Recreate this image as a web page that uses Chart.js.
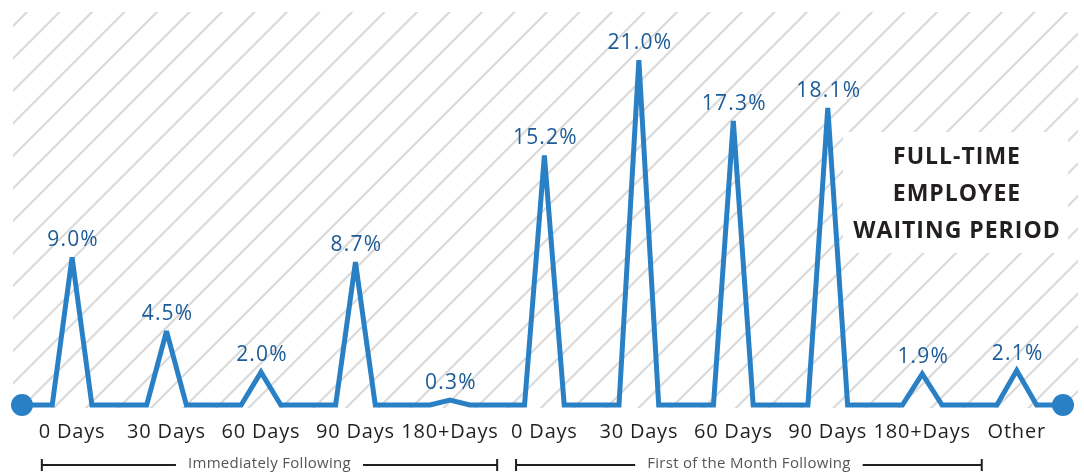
<!DOCTYPE html>
<html>
<head>
<meta charset="utf-8">
<script src="https://cdn.jsdelivr.net/npm/chart.js@4/dist/chart.umd.min.js"></script>
<style>
  html, body { margin: 0; padding: 0; background: #fff; }
  #wrap { width: 1084px; height: 473px; position: relative; }
</style>
</head>
<body>
<div id="wrap"><canvas id="grafico"></canvas></div>
<script>
// categorias e valores (%)
var categories = ["0 Days", "30 Days", "60 Days", "90 Days", "180+Days",
                  "0 Days", "30 Days", "60 Days", "90 Days", "180+Days", "Other"];
var values = [9.0, 4.5, 2.0, 8.7, 0.3, 15.2, 21.0, 17.3, 18.1, 1.9, 2.1];
var groups = ["Immediately Following", "First of the Month Following"];
var titleLines = ["FULL-TIME", "EMPLOYEE", "WAITING PERIOD"];

var FONT = "'Open Sans', 'Noto Sans', sans-serif";
var blue = "#2a80c5";
var labelBlue = "#1b5b98";
var dark = "#231f20";

// cada categoria vira um "pico": base, topo, base
var points = [{x: -0.53, y: 0}];
values.forEach(function(v, i) {
  points.push({x: i - 0.21, y: 0});
  points.push({x: i, y: v});
  points.push({x: i + 0.21, y: 0});
});
points.push({x: 10.49, y: 0});

var hatch = {
  id: "hatch",
  beforeDraw: function(chart) {
    var ctx = chart.ctx;
    var x0 = 13, y0 = 12, x1 = 1078, y1 = 408;
    ctx.save();
    ctx.beginPath();
    ctx.rect(x0, y0, x1 - x0, y1 - y0);
    ctx.clip();
    ctx.strokeStyle = "#dadada";
    ctx.lineWidth = 2.2;
    for (var c = 39 - 32.5 * 20; c < x1 + y1 + 40; c += 32.5) {
      ctx.beginPath();
      ctx.moveTo(c - y0 + 20, y0 - 20);
      ctx.lineTo(c - y1 - 20, y1 + 20);
      ctx.stroke();
    }
    ctx.restore();

    // caixa do titulo
    ctx.save();
    ctx.fillStyle = "#fff";
    ctx.fillRect(843, 132, 225, 121);
    ctx.fillStyle = dark;
    ctx.font = "bold 23px " + FONT;
    ctx.letterSpacing = "1px";
    ctx.textAlign = "center";
    ctx.textBaseline = "middle";
    var ty = [157, 194, 231];
    titleLines.forEach(function(t, i) { ctx.fillText(t, 957, ty[i]); });
    ctx.restore();
  }
};

var labels = {
  id: "labels",
  beforeDatasetsDraw: function(chart) {
    // picos finos ficam achatados como no original
    chart.ctx.save();
    chart.ctx.miterLimit = 2.5;
  },
  afterDatasetsDraw: function(chart) {
    var ctx = chart.ctx;
    ctx.restore();
    var xs = chart.scales.x, ys = chart.scales.y;
    ctx.save();
    ctx.textAlign = "center";
    // valores acima dos picos
    ctx.fillStyle = labelBlue;
    ctx.font = "21px " + FONT;
    ctx.letterSpacing = "1.2px";
    ctx.textBaseline = "alphabetic";
    values.forEach(function(v, i) {
      ctx.fillText(v.toFixed(1) + "%", xs.getPixelForValue(i) + 1, ys.getPixelForValue(v) - 11);
    });
    // nomes das categorias
    ctx.fillStyle = dark;
    ctx.textBaseline = "middle";
    ctx.font = "20px " + FONT;
    ctx.letterSpacing = "0.8px";
    categories.forEach(function(c, i) {
      ctx.fillText(c, xs.getPixelForValue(i), 432);
    });
    // chaves dos grupos
    var spans = [[-0.32, 4.5], [4.7, 9.63]];
    ctx.font = "15px " + FONT;
    ctx.letterSpacing = "0.3px";
    spans.forEach(function(s, g) {
      var a = xs.getPixelForValue(s[0]), b = xs.getPixelForValue(s[1]);
      var mid = (a + b) / 2;
      var w = ctx.measureText(groups[g]).width;
      ctx.strokeStyle = dark;
      ctx.lineWidth = 2;
      ctx.beginPath();
      ctx.moveTo(a, 465); ctx.lineTo(mid - w / 2 - 12, 465);
      ctx.moveTo(mid + w / 2 + 12, 465); ctx.lineTo(b, 465);
      ctx.moveTo(a, 459); ctx.lineTo(a, 471);
      ctx.moveTo(b, 459); ctx.lineTo(b, 471);
      ctx.stroke();
      ctx.fillStyle = "#555";
      ctx.fillText(groups[g], mid, 464);
    });
    ctx.restore();
  }
};

var ctx = document.getElementById("grafico").getContext("2d");
var chart = new Chart(ctx, {
  type: "line",
  data: {
    datasets: [{
      data: points,
      borderColor: blue,
      borderWidth: 5,
      borderJoinStyle: "miter",
      fill: false,
      tension: 0,
      clip: false,
      pointRadius: function(c) {
        return (c.dataIndex === 0 || c.dataIndex === points.length - 1) ? 11 : 0;
      },
      pointBackgroundColor: blue,
      pointBorderWidth: 0,
      pointHoverRadius: 0
    }]
  },
  options: {
    responsive: true,
    maintainAspectRatio: false,
    animation: false,
    layout: { padding: { left: 22, right: 21, top: 9, bottom: 68 } },
    plugins: { legend: { display: false }, tooltip: { enabled: false } },
    scales: {
      x: { type: "linear", min: -0.53, max: 10.49, display: false },
      y: { min: 0, max: 24, display: false }
    }
  },
  plugins: [hatch, labels]
});
</script>
</body>
</html>
